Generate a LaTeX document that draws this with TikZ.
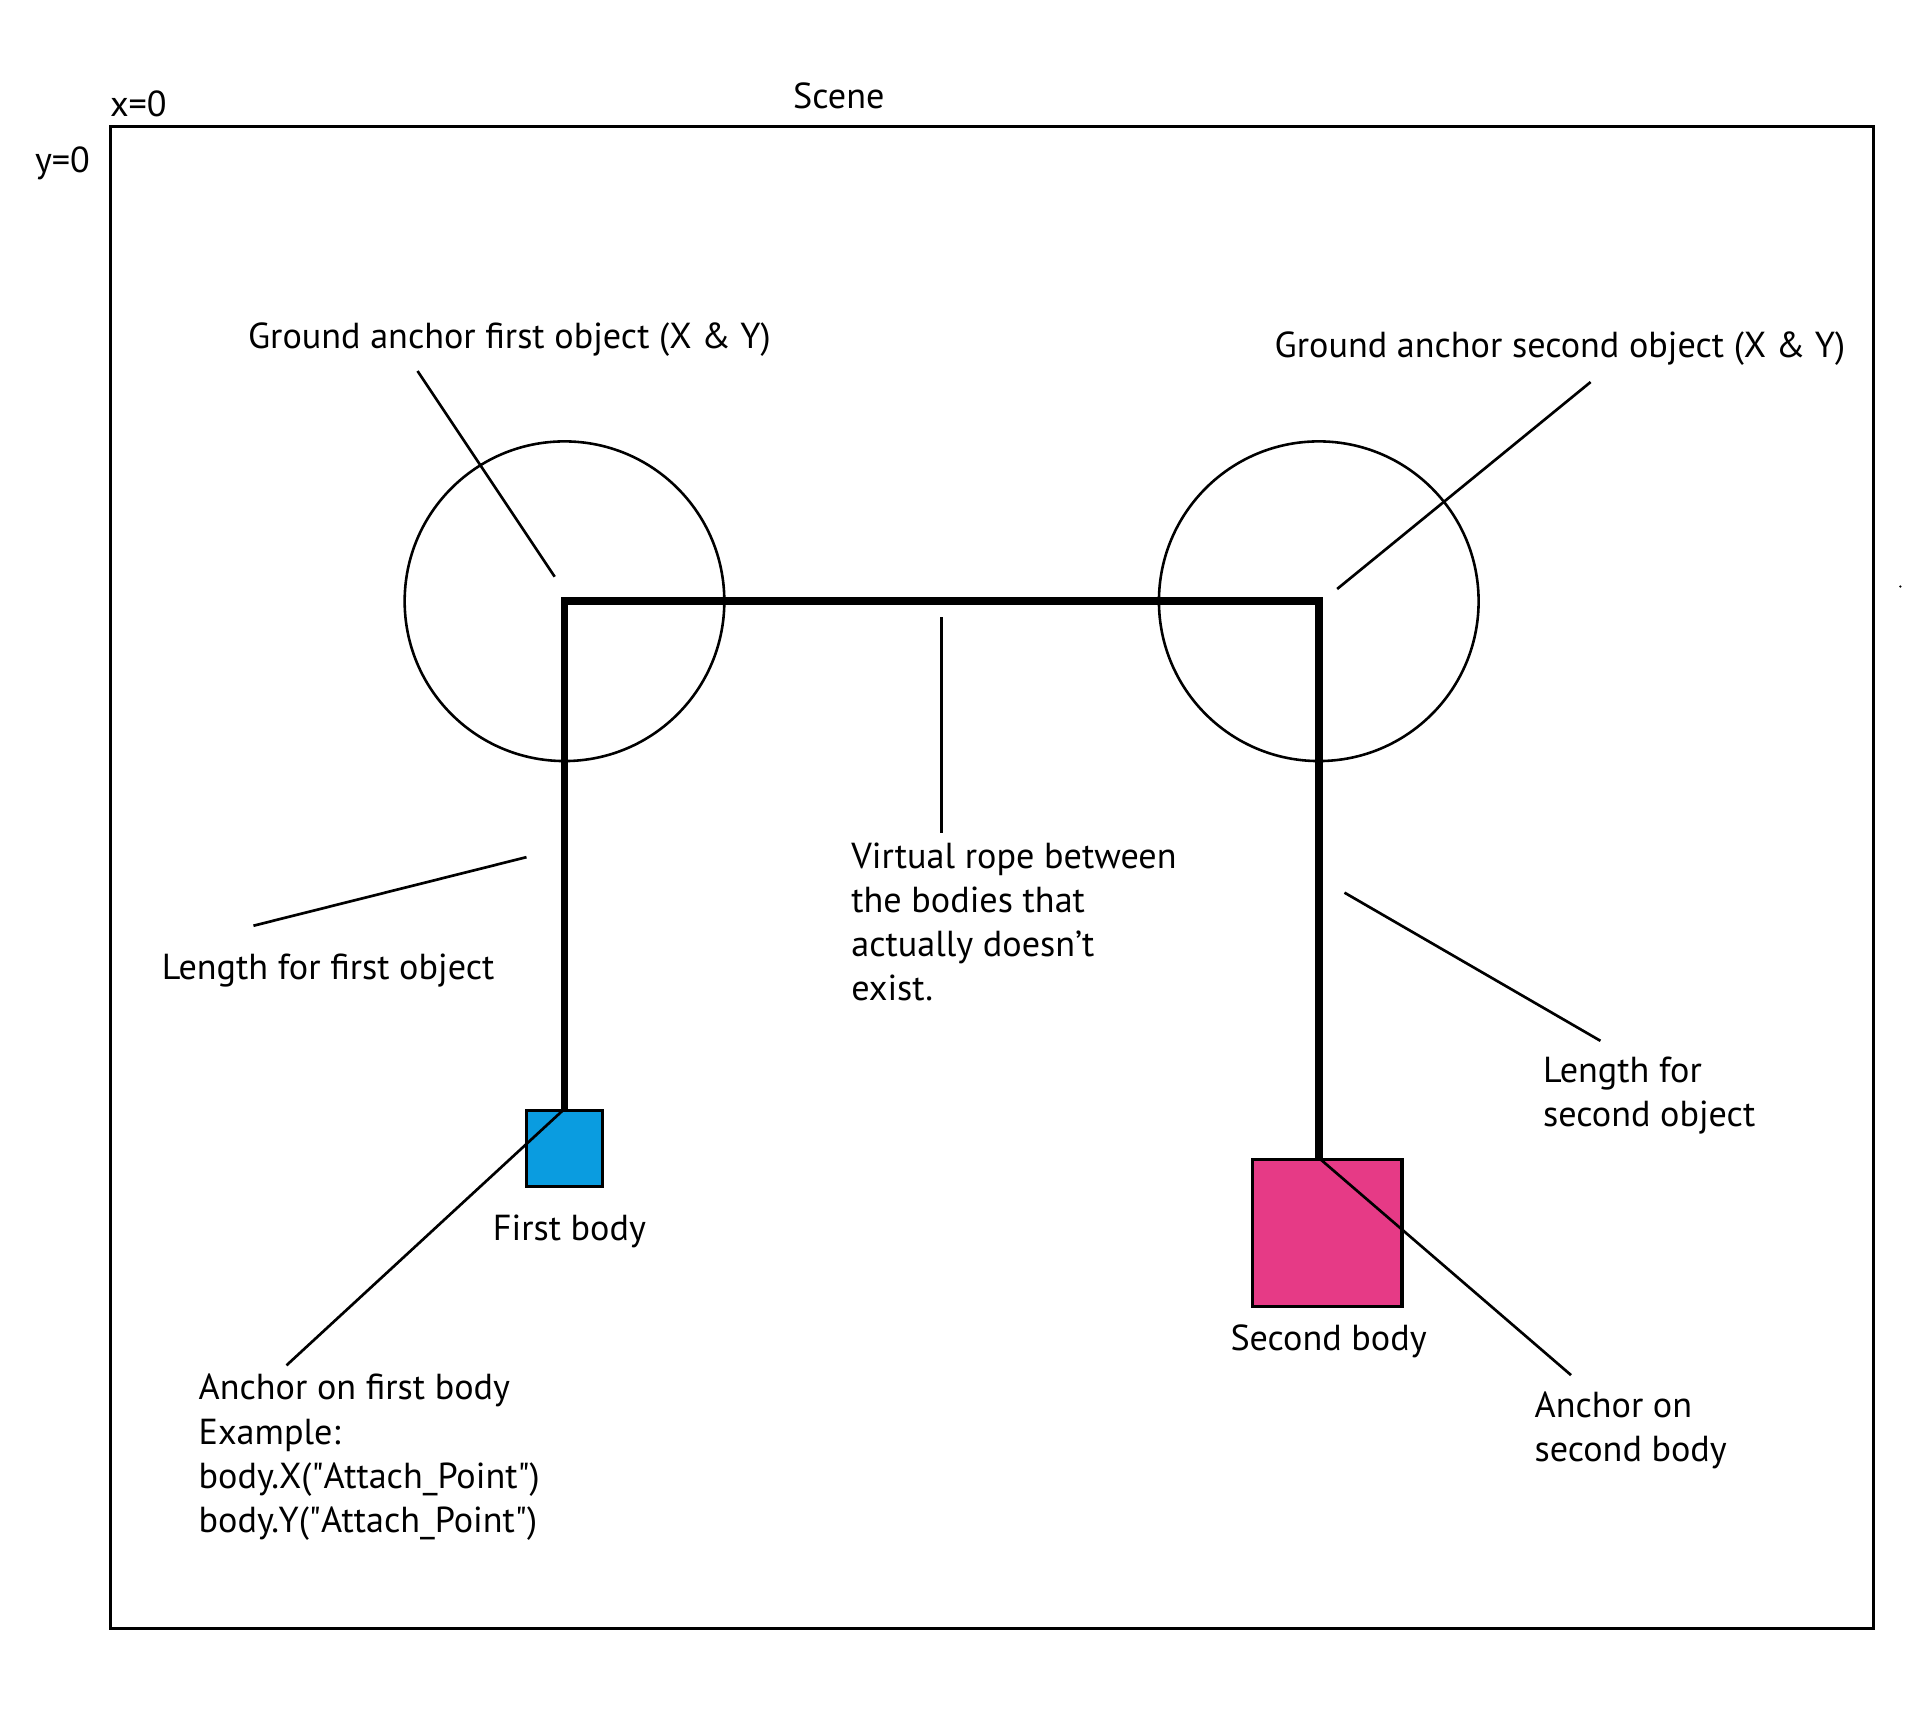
\documentclass[tikz,border=0pt]{standalone}
\usepackage{fontspec}
\setmainfont{PT Sans}
\usetikzlibrary{positioning}

\definecolor{bodyblue}{HTML}{0A9CE0}
\definecolor{bodypink}{HTML}{E63A86}

\begin{document}
\begin{tikzpicture}[x=0.025cm, y=-0.025cm,
  lbl/.style={font=\fontsize{21}{25.6}\selectfont, inner sep=0pt},
  lead/.style={line width=1.55pt},
  pulley/.style={circle, draw, line width=1.5pt, minimum size=6.525cm, inner sep=0pt},
  body/.style={draw, line width=2pt, inner sep=0pt},
  rope/.style={line width=4.5pt, line join=miter}]
\useasboundingbox (0,0) rectangle (1568,1401.4);

\draw[line width=1.7pt] (90,103) rectangle (1530,1330);
\fill (1552,479) circle (1);

\node[lbl, anchor=base] (scene) at (685,89) {Scene};
\node[lbl, anchor=base] (xzero) at (113,95) {x=0};
\node[lbl, anchor=base] (yzero) at (51,141) {y=0};

\node[pulley] (gnd1) at (461,491) {};
\node[pulley] (gnd2) at (1077,491) {};
\node[body, fill=bodyblue, minimum size=1.55cm] (body1) at (461,938) {};
\node[body, fill=bodypink, minimum width=3.05cm, minimum height=3cm] (body2) at (1084,1007) {};

\coordinate (att1) at (body1.north);
\coordinate (att2) at (gnd2.center |- body2.north);
\draw[rope] (att1) -- (gnd1.center) -- (gnd2.center) -- (att2);

\node[lbl, anchor=base] (gndlbl1) at (416,285) {Ground anchor first object (X \& Y)};
\node[lbl, anchor=base] (gndlbl2) at (1274,292) {Ground anchor second object (X \& Y)};
\node[lbl, anchor=north west, align=left] (ropelbl) at (695,688)
  {Virtual rope between\\the bodies that\\actually doesn’t\\exist.};
\node[lbl, anchor=base west] (len1) at (132,800) {Length for first object};
\node[lbl, anchor=north west, align=left] (len2) at (1260,863) {Length for\\second object};
\node[lbl, anchor=base] (b1lbl) at (465,1013) {First body};
\node[lbl, anchor=base] (b2lbl) at (1085,1103) {Second body};
\node[lbl, anchor=north west, align=left] (att1lbl) at (162,1122)
  {Anchor on first body\\Example:\\body.X(\textquotedbl Attach\_Point\textquotedbl)\\body.Y(\textquotedbl Attach\_Point\textquotedbl)};
\node[lbl, anchor=north west, align=left] (att2lbl) at (1253,1136) {Anchor on\\second body};

\coordinate (g1a) at (341,303);   \coordinate (g1b) at (453,471);
\coordinate (g2a) at (1299,312);  \coordinate (g2b) at (1092,481);
\coordinate (va) at (769,504);    \coordinate (vb) at (769,680);
\coordinate (l1a) at (430,700);   \coordinate (l1b) at (207,756);
\coordinate (l2a) at (1098,729);  \coordinate (l2b) at (1307,850);
\coordinate (a1b) at (234,1115);
\coordinate (a2b) at (1283,1123);

\foreach \a/\b in {g1a/g1b, g2a/g2b, va/vb, l1a/l1b, l2a/l2b, att1/a1b, att2/a2b}
  \draw[lead] (\a) -- (\b);

\end{tikzpicture}
\end{document}
